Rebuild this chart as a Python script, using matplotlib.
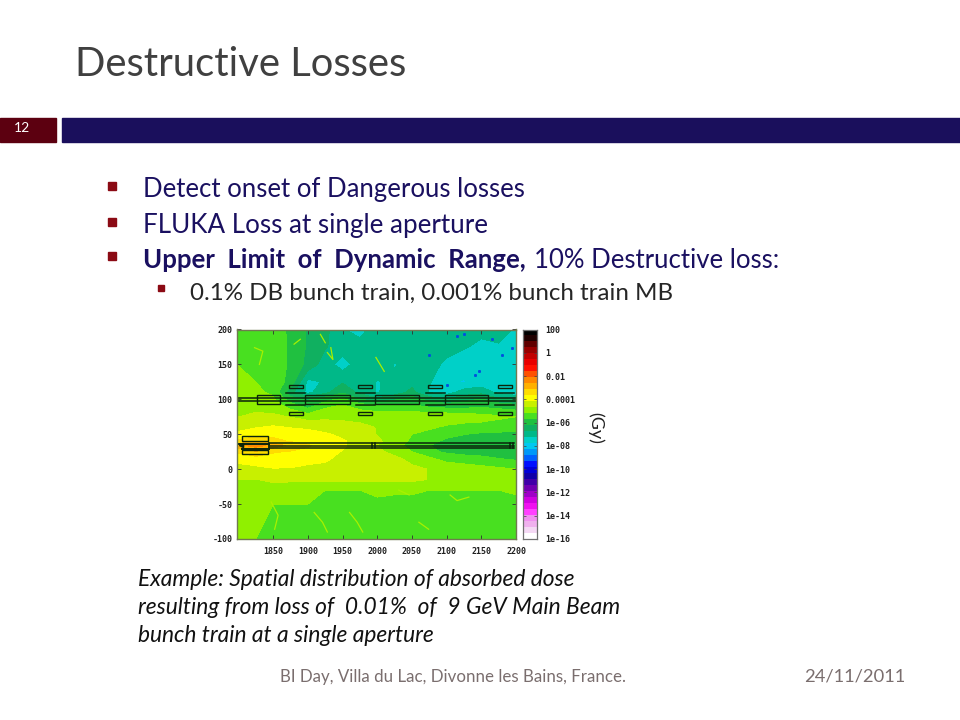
import numpy as np
import matplotlib
matplotlib.use('Agg')
import matplotlib.pyplot as plt
from matplotlib.colors import LinearSegmentedColormap, BoundaryNorm
from matplotlib.patches import Rectangle

# dose map, log10(Gy)
x_grid = [1797, 1825, 1850, 1875, 1900, 1925, 1950, 1975, 2000, 2025, 2050, 2075, 2100, 2125, 2150, 2175, 2200]
y_grid = [-100, -75, -50, -30, -15, 0, 15, 25, 34, 40, 50, 60, 75, 90, 100, 110, 125, 150, 175, 200]
dose_rows = [
    [-5.1, -5.2, -5.4, -5.4, -5.4, -5.4, -5.4, -5.5, -5.5, -5.6, -5.6, -5.6, -5.6, -5.6, -5.6, -5.7, -5.7],
    [-5.1, -5.1, -5.3, -5.3, -5.3, -5.3, -5.3, -5.4, -5.5, -5.5, -5.5, -5.5, -5.6, -5.6, -5.6, -5.6, -5.6],
    [-5.0, -5.1, -5.2, -5.2, -5.2, -5.3, -5.3, -5.4, -5.3, -5.4, -5.4, -5.5, -5.5, -5.5, -5.5, -5.5, -5.4],
    [-4.9, -4.9, -4.9, -5.0, -5.1, -5.2, -5.2, -5.2, -5.1, -5.1, -5.1, -5.2, -5.2, -5.2, -5.2, -5.2, -5.1],
    [-4.7, -4.7, -4.6, -4.6, -4.6, -4.6, -4.6, -4.6, -4.6, -4.6, -4.6, -4.7, -4.7, -4.8, -4.8, -4.9, -5.0],
    [-4.4, -4.3, -4.2, -4.2, -4.3, -4.3, -4.4, -4.4, -4.5, -4.5, -4.6, -4.7, -4.8, -4.9, -5.0, -5.1, -5.2],
    [-4.0, -3.9, -3.9, -4.0, -4.0, -4.1, -4.3, -4.4, -4.5, -4.6, -4.8, -5.1, -5.4, -5.5, -5.6, -5.7, -5.8],
    [-3.6, -3.2, -3.6, -3.7, -3.8, -4.0, -4.2, -4.4, -4.6, -4.8, -5.2, -5.6, -5.8, -5.9, -5.9, -6.0, -6.1],
    [-2.8, -2.4, -2.8, -3.3, -3.6, -3.9, -4.1, -4.4, -4.7, -5.0, -5.4, -5.7, -5.9, -6.0, -6.1, -6.1, -6.2],
    [-3.6, -3.2, -3.5, -3.7, -3.8, -3.9, -4.1, -4.4, -4.6, -4.9, -5.3, -5.6, -5.8, -5.9, -6.0, -6.0, -6.1],
    [-4.0, -3.9, -3.8, -3.9, -3.9, -4.1, -4.3, -4.5, -4.7, -4.9, -5.2, -5.4, -5.6, -5.7, -5.8, -5.8, -5.9],
    [-4.5, -4.2, -4.1, -4.2, -4.3, -4.4, -4.5, -4.6, -4.7, -4.8, -5.0, -5.1, -5.3, -5.4, -5.4, -5.5, -5.5],
    [-4.7, -4.6, -4.6, -4.7, -4.9, -4.8, -4.8, -4.8, -4.8, -4.8, -4.8, -4.8, -4.8, -4.9, -5.0, -5.1, -5.2],
    [-4.8, -4.8, -4.9, -5.4, -5.9, -5.3, -5.1, -5.4, -5.6, -5.6, -5.6, -5.8, -5.9, -5.9, -5.8, -5.9, -6.0],
    [-4.9, -4.9, -5.1, -6.0, -6.3, -5.9, -5.6, -6.2, -6.6, -6.3, -6.0, -6.4, -6.7, -6.4, -6.2, -6.6, -6.8],
    [-5.1, -5.1, -5.3, -6.6, -7.4, -6.9, -6.3, -6.9, -7.3, -7.0, -6.6, -7.3, -7.5, -7.0, -6.9, -7.4, -7.6],
    [-5.2, -5.2, -5.4, -5.9, -7.4, -7.2, -6.8, -6.9, -7.3, -7.1, -6.9, -7.2, -7.7, -7.8, -7.6, -7.6, -7.7],
    [-5.2, -5.3, -5.4, -5.8, -6.4, -7.0, -7.5, -7.0, -6.9, -7.3, -7.0, -7.0, -7.4, -7.6, -7.6, -7.6, -7.6],
    [-5.3, -5.3, -5.4, -5.8, -6.3, -6.7, -7.0, -7.0, -6.9, -6.8, -7.1, -6.8, -7.0, -7.2, -7.4, -7.3, -7.5],
    [-5.3, -5.4, -5.5, -5.8, -6.3, -6.6, -7.2, -7.5, -6.9, -6.8, -6.8, -6.8, -7.0, -7.1, -7.1, -7.1, -7.3],
]

x_ticks = [1850, 1900, 1950, 2000, 2050, 2100, 2150, 2200]
y_ticks = [-100, -50, 0, 50, 100, 150, 200]
cbar_ticks = [-16, -14, -12, -10, -8, -6, -4, -2, 0, 2]
cbar_labels = ['1e-16', '1e-14', '1e-12', '1e-10', '1e-08', '1e-06', '0.0001', '0.01', '1', '100']

band_colors = ['#ffffff', '#f4d8f4', '#f0b0ee', '#f090f0', '#ff40ff', '#f010f0', '#d000e0', '#a000c8',
               '#7000b0', '#4000a8', '#1000a8', '#0000d8', '#0010ff', '#0060ff', '#0098f8', '#00c8f0',
               '#00d0c8', '#00b888', '#10b060', '#20c040', '#48e020', '#90f000', '#c8f000', '#ffff00',
               '#ffdc00', '#ffb000', '#ff8800', '#ff5000', '#ff1000', '#e80000', '#c00000', '#980000',
               '#600000', '#200000', '#000000']

# magnet outlines, (x start, x end, y low, y high)
big_boxes = [(1827, 1859, 94, 106), (1896, 1960, 94, 106), (1996, 2060, 94, 106), (2097, 2160, 94, 106),
             (1805, 1842, 41, 47), (1805, 1842, 22, 28)]
small_boxes = [(1872, 1893, 116, 121), (1972, 1993, 116, 121), (2073, 2093, 116, 121), (2174, 2194, 116, 121),
               (1872, 1893, 77, 82), (1972, 1993, 77, 82), (2073, 2093, 77, 82), (2174, 2194, 77, 82)]
short_x = [(1869, 1896), (1969, 1996), (2070, 2097), (2170, 2197)]
short_y = [108.5, 91.5]
pipe_y = [102, 98]
lower_y = [37.5, 33.8, 30]

# blue specks and pale streaks in the dose map
cold_x = [2125, 2165, 2180, 2194, 2146, 2100, 2141, 2115, 2074]
cold_y = [193, 186, 164, 174, 140, 121, 135, 191, 164]
streaks = [([1847, 1857, 1852], [-47, -66, -86]), ([1909, 1921, 1928], [-62, -76, -90]),
           ([1960, 1971, 1979], [-62, -76, -90]), ([2060, 2074], [-76, -86]),
           ([2105, 2115, 2132], [-37, -45, -40]), ([2031, 2046], [-30, -37]),
           ([1823, 1835, 1830], [174, 169, 150]), ([1928, 1936, 1933], [167, 157, 174]),
           ([1998, 2010], [160, 140]), ([1918, 1925], [193, 181]), ([1889, 1880], [186, 179])]

plt.rcParams['font.family'] = ['Lato', 'DejaVu Sans']
fig = plt.figure(figsize=(9.6, 7.2), dpi=100)

# slide furniture in pixels
page = fig.add_axes([0, 0, 1, 1])
page.set_xlim(0, 960)
page.set_ylim(720, 0)
page.axis('off')
page.add_patch(Rectangle((0, 118), 56, 24, color='#5c0010'))
page.add_patch(Rectangle((62, 118), 898, 24, color='#1a0f5c'))
page.text(22, 128, '12', color='white', fontsize=10, ha='center', va='center')
page.text(75, 64, 'Destructive Losses', color='#404040', fontsize=28.8, va='center')

navy = '#1a1060'
page.text(143, 190, 'Detect onset of Dangerous losses', color=navy, fontsize=18.5, va='center')
page.text(143, 225, 'FLUKA Loss at single aperture', color=navy, fontsize=18.7, va='center')
page.text(143, 260, 'Upper  Limit  of  Dynamic  Range,', color=navy, fontsize=18.5, fontweight='bold', va='center')
page.text(534, 260, '10% Destructive loss:', color=navy, fontsize=18.5, va='center')
page.text(190, 293, '0.1% DB bunch train, 0.001% bunch train MB', color='#262626', fontsize=17.4, va='center')
page.plot([112, 112, 112], [186, 222, 256], 's', color='#8b0a14', ms=5.5)
page.plot([161], [288], 's', color='#8b0a14', ms=4.5)

caption = ['Example: Spatial distribution of absorbed dose',
           'resulting from loss of  0.01%  of  9 GeV Main Beam',
           'bunch train at a single aperture']
for line, ypos in zip(caption, [579, 607, 636]):
    page.text(138, ypos, line, color='#111111', fontsize=16.4, style='italic', va='center')
page.text(280, 677, 'BI Day, Villa du Lac, Divonne les Bains, France.', color='#7a6e6e', fontsize=12.2, va='center')
page.text(905, 677, '24/11/2011', color='#7a6e6e', fontsize=13.2, ha='right', va='center')
page.text(596, 428, '(Gy)', color='#222222', fontsize=13, rotation=270, ha='center', va='center')

# dose map
levels = np.linspace(-16, 2, len(band_colors) + 1)
cmap = LinearSegmentedColormap.from_list('dose', band_colors, N=len(band_colors))
norm = BoundaryNorm(levels, cmap.N)

ax = fig.add_axes([236.5 / 960, 1 - 539 / 720, 279.5 / 960, 209.5 / 720])
ax.contourf(x_grid, y_grid, np.array(dose_rows), levels=levels, cmap=cmap, norm=norm)
for sx, sy in streaks:
    ax.plot(sx, sy, color='#a8f000', lw=0.9)
ax.plot(cold_x, cold_y, 's', color='#0050e0', ms=1.1)

edge = '#0a240a'
line_style = dict(color=edge, lw=1.1)
for x0, x1, y0, y1 in big_boxes + small_boxes:
    ax.add_patch(Rectangle((x0, y0), x1 - x0, y1 - y0, fill=False, ec=edge, lw=1))
for x0, x1 in short_x:
    for yy in short_y:
        ax.plot([x0, x1], [yy, yy], **line_style)
for yy in pipe_y:
    ax.plot([1797, 2200], [yy, yy], **line_style)
for yy in lower_y:
    ax.plot([1844, 2197], [yy, yy], **line_style)
ax.plot([1797, 1844], [35.8, 35.8], color=edge, lw=1.4)
ax.plot([1805, 1844], [28.5, 28.5], color=edge, lw=1.4)
ax.plot([1844, 1844], [28.5, 38], **line_style)
for xx in [1992, 1996, 2192, 2196]:
    ax.plot([xx, xx], [30, 38], **line_style)
ax.plot([1803], [34.5], '<', color=edge, ms=3)

ax.set_xlim(1797, 2200)
ax.set_ylim(-100, 200)
ax.set_xticks(x_ticks)
ax.set_yticks(y_ticks)
ax.tick_params(direction='in', length=3, width=0.6, top=True, right=True, color='#303030')
ax.tick_params(axis='x', pad=6)
ax.tick_params(axis='y', pad=3)
ax.set_xticklabels(x_ticks, family='DejaVu Sans Mono', fontweight='bold', fontsize=6, color='#202020')
ax.set_yticklabels(y_ticks, family='DejaVu Sans Mono', fontweight='bold', fontsize=6, color='#202020')
for side in ax.spines.values():
    side.set_color('#707a50')
    side.set_linewidth(1)

# colour scale
cax = fig.add_axes([522.5 / 960, 1 - 539 / 720, 14.5 / 960, 209.5 / 720])
cax.pcolormesh([0, 1], levels, np.arange(len(band_colors)).reshape(-1, 1), cmap=cmap)
cax.set_xticks([])
cax.set_ylim(-16, 2)
cax.set_yticks(cbar_ticks)
cax.yaxis.tick_right()
cax.tick_params(direction='in', length=2, width=0.5, pad=6, left=True, right=True, color='#404040')
cax.set_yticklabels(cbar_labels, family='DejaVu Sans Mono', fontweight='bold', fontsize=6, color='#202020')
for side in cax.spines.values():
    side.set_color('#707070')
    side.set_linewidth(0.9)

fig.savefig('out.png', dpi=100)
